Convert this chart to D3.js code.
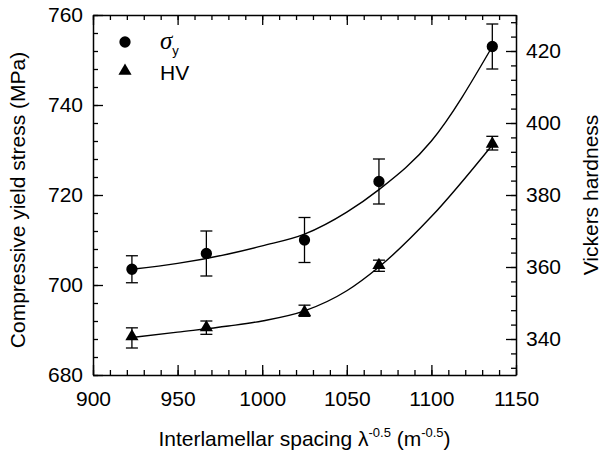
<!DOCTYPE html>
<html>
<head>
<meta charset="utf-8">
<script src="https://cdn.jsdelivr.net/npm/d3@7"></script>
<style>
  body { margin: 0; background: #fff; }
  svg { font-family: "Liberation Sans", Arial, sans-serif; }
  .domain { stroke: #000; stroke-width: 1.5; }
  .tick line { stroke: #000; stroke-width: 1.3; }
</style>
</head>
<body>
<div id="chart"></div>
<script>
// measured points
const spacing = [923, 967, 1025, 1069, 1136];
const sigmaY = [703.5, 707, 710, 723, 753];
const sigmaLow = [700.5, 702, 705, 718, 748];
const sigmaHigh = [706.5, 712, 715, 728, 758];
const hv = [340.4, 342.9, 347.2, 360.2, 393.9];
const hvLow = [337.5, 341.3, 346.3, 358.8, 392.5];
const hvHigh = [343.1, 345.0, 349.4, 361.9, 396.3];

// fitted curves
const fitX = [923, 950, 980, 1000, 1025, 1050, 1069, 1100, 1136];
const sigmaFit = [703.5, 704.8, 706.9, 708.7, 711.3, 716.2, 721.2, 732.0, 753.0];
const hvFit = [340.4, 341.9, 343.6, 345.0, 347.8, 353.4, 360.0, 374.0, 393.9];

const xTicks = [900, 950, 1000, 1050, 1100, 1150];
const leftTicks = [680, 700, 720, 740, 760];
const rightTicks = [340, 360, 380, 400, 420];

const width = 604, height = 461;
const margin = { top: 15, right: 88, bottom: 86, left: 93 };
const w = width - margin.left - margin.right;
const h = height - margin.top - margin.bottom;

const svg = d3.select("#chart").append("svg")
    .attr("width", width)
    .attr("height", height);
const g = svg.append("g")
    .attr("transform", `translate(${margin.left},${margin.top})`);

const x = d3.scaleLinear().domain([900, 1150]).range([0, w]);
const yL = d3.scaleLinear().domain([680, 760]).range([h, 0]);
const yR = d3.scaleLinear().domain([330, 430]).range([h, 0]);
const fmt = d3.format("d");

// minor ticks first
g.append("g").attr("transform", `translate(0,${h})`)
    .call(d3.axisBottom(x).tickValues(d3.range(900, 1151, 10)).tickSize(-5).tickFormat(""))
    .call(a => a.select(".domain").remove());
g.append("g")
    .call(d3.axisTop(x).tickValues(d3.range(900, 1151, 10)).tickSize(-5).tickFormat(""))
    .call(a => a.select(".domain").remove());
g.append("g")
    .call(d3.axisLeft(yL).tickValues(d3.range(680, 761, 4)).tickSize(-5).tickFormat(""))
    .call(a => a.select(".domain").remove());
g.append("g").attr("transform", `translate(${w},0)`)
    .call(d3.axisRight(yR).tickValues(d3.range(332, 430, 4)).tickSize(-5).tickFormat(""))
    .call(a => a.select(".domain").remove());

// major ticks and labels
const fs = "21px";
g.append("g").attr("transform", `translate(0,${h})`)
    .call(d3.axisBottom(x).tickValues(xTicks).tickFormat(fmt).tickSizeInner(-10).tickSizeOuter(0).tickPadding(16))
    .selectAll("text").style("font-size", fs).attr("fill", "#000");
g.append("g")
    .call(d3.axisTop(x).tickValues(xTicks).tickSizeInner(-10).tickSizeOuter(0).tickFormat(""));
g.append("g")
    .call(d3.axisLeft(yL).tickValues(leftTicks).tickFormat(fmt).tickSizeInner(-10).tickSizeOuter(0).tickPadding(10))
    .selectAll("text").style("font-size", fs).attr("fill", "#000");
g.append("g").attr("transform", `translate(${w},0)`)
    .call(d3.axisRight(yR).tickValues(rightTicks).tickFormat(fmt).tickSizeInner(-10).tickSizeOuter(0).tickPadding(10))
    .selectAll("text").style("font-size", fs).attr("fill", "#000");

// fit lines
const line = d3.line().curve(d3.curveMonotoneX);
g.append("path")
    .datum(fitX.map((v, i) => [x(v), yL(sigmaFit[i])]))
    .attr("d", line).attr("fill", "none").attr("stroke", "#000").attr("stroke-width", 1.4);
g.append("path")
    .datum(fitX.map((v, i) => [x(v), yR(hvFit[i])]))
    .attr("d", line).attr("fill", "none").attr("stroke", "#000").attr("stroke-width", 1.4);

// error bars
function errorBars(lo, hi, y) {
    const eb = g.append("g").attr("stroke", "#000").attr("stroke-width", 1.3);
    spacing.forEach((v, i) => {
        const cx = x(v);
        eb.append("line").attr("x1", cx).attr("x2", cx).attr("y1", y(lo[i])).attr("y2", y(hi[i]));
        eb.append("line").attr("x1", cx - 6).attr("x2", cx + 6).attr("y1", y(lo[i])).attr("y2", y(lo[i]));
        eb.append("line").attr("x1", cx - 6).attr("x2", cx + 6).attr("y1", y(hi[i])).attr("y2", y(hi[i]));
    });
}
errorBars(sigmaLow, sigmaHigh, yL);
errorBars(hvLow, hvHigh, yR);

const circ = d3.symbol().type(d3.symbolCircle).size(100);
const tri = d3.symbol().type(d3.symbolTriangle).size(75);

g.selectAll(".pt-s").data(spacing).enter().append("path")
    .attr("d", circ)
    .attr("transform", (d, i) => `translate(${x(d)},${yL(sigmaY[i])})`);
g.selectAll(".pt-h").data(spacing).enter().append("path")
    .attr("d", tri)
    .attr("transform", (d, i) => `translate(${x(d)},${yR(hv[i]) - 1})`);

// legend
svg.append("path").attr("d", circ).attr("transform", "translate(125,42)");
svg.append("path").attr("d", tri).attr("transform", "translate(125,71)");
const lg1 = svg.append("text").attr("x", 160).attr("y", 49).style("font-size", "21px");
lg1.append("tspan").text("σ").style("font-family", "'Liberation Serif', serif").style("font-style", "italic").style("font-size", "25px");
lg1.append("tspan").text("y").attr("dy", 6).style("font-size", "13px");
svg.append("text").attr("x", 160).attr("y", 80).style("font-size", "21px").text("HV");

// axis titles
const xt = svg.append("text")
    .attr("x", margin.left + w / 2).attr("y", 446)
    .attr("text-anchor", "middle").style("font-size", "21px");
xt.append("tspan").text("Interlamellar spacing λ");
xt.append("tspan").text("-0.5").attr("dy", -9).style("font-size", "13px");
xt.append("tspan").text(" (m").attr("dy", 9);
xt.append("tspan").text("-0.5").attr("dy", -9).style("font-size", "13px");
xt.append("tspan").text(")").attr("dy", 9);

svg.append("text")
    .attr("transform", `translate(25,${margin.top + h / 2 + 5}) rotate(-90)`)
    .attr("text-anchor", "middle").style("font-size", "21px")
    .text("Compressive yield stress (MPa)");

svg.append("text")
    .attr("transform", `translate(598,${margin.top + h / 2}) rotate(-90)`)
    .attr("text-anchor", "middle").style("font-size", "21px")
    .text("Vickers hardness");
</script>
</body>
</html>
